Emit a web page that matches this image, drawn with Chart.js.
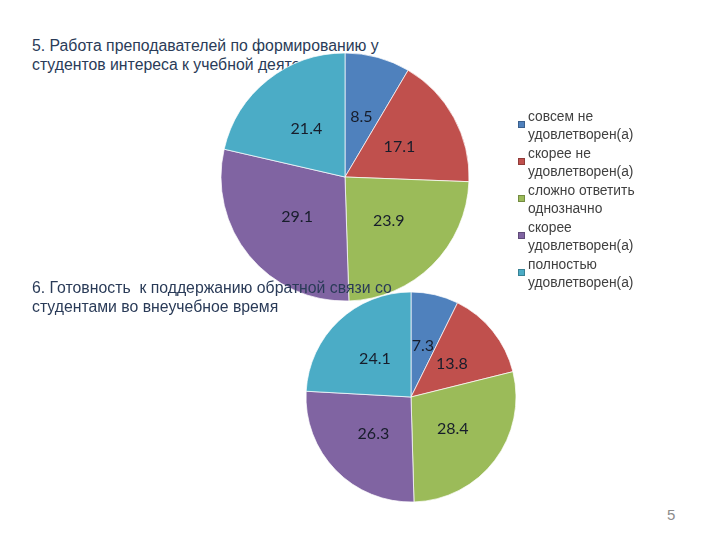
<!DOCTYPE html>
<html>
<head>
<meta charset="utf-8">
<script src="https://cdn.jsdelivr.net/npm/chart.js@4.4.0/dist/chart.umd.min.js"></script>
<style>
  html, body { margin: 0; padding: 0; background: #fff; }
  #page { position: relative; width: 720px; height: 540px; overflow: hidden; background: #fff; }
  .title { position: absolute; left: 32px; font-family: "Liberation Sans", Arial, sans-serif; font-size: 15.8px; line-height: 19px; color: #2a3b58; white-space: nowrap; }
  #t1 { top: 36px; z-index: 1; }
  #t2 { top: 278px; z-index: 3; }
  #c1 { position: absolute; left: 215px; top: 47px; z-index: 2; }
  #c2 { position: absolute; left: 301px; top: 287px; z-index: 4; }
  #legend { position: absolute; left: 518px; top: 108px; z-index: 5; font-family: "Liberation Sans", Arial, sans-serif; font-size: 13.8px; line-height: 18px; color: #404040; }
  .item { position: relative; height: 37px; padding-left: 10px; }
  .sw { position: absolute; left: 0; top: 13px; width: 7px; height: 7px; box-sizing: border-box; border: 1px solid rgba(0,0,0,0.25); }
  #pnum { position: absolute; left: 667px; top: 506px; font-family: "Liberation Sans", Arial, sans-serif; font-size: 15px; color: #8c8c8c; }
</style>
</head>
<body>
<div id="page">
  <div class="title" id="t1">5. Работа преподавателей по формированию у<br>студентов интереса к учебной деятельности</div>
  <canvas id="c1" width="260" height="260"></canvas>
  <div class="title" id="t2">6. Готовность&nbsp; к поддержанию обратной связи со<br>студентами во внеучебное время</div>
  <canvas id="c2" width="220" height="220"></canvas>
  <div id="legend"></div>
  <div id="pnum">5</div>
</div>
<script>
const categories = [
  ["совсем не", "удовлетворен(а)"],
  ["скорее не", "удовлетворен(а)"],
  ["сложно ответить", "однозначно"],
  ["скорее", "удовлетворен(а)"],
  ["полностью", "удовлетворен(а)"]
];
const values1 = [8.5, 17.1, 23.9, 29.1, 21.4];
const values2 = [7.3, 13.8, 28.4, 26.3, 24.1];
const colors = ["#4F81BD", "#C0504D", "#9BBB59", "#8064A2", "#4BACC6"];

const valueLabels = {
  id: "valueLabels",
  afterDatasetsDraw(chart) {
    const ctx = chart.ctx;
    const meta = chart.getDatasetMeta(0);
    const data = chart.data.datasets[0].data;
    ctx.save();
    ctx.font = '16px Lato, "Open Sans", sans-serif';
    ctx.fillStyle = "#171d2b";
    ctx.textAlign = "center";
    ctx.textBaseline = "middle";
    meta.data.forEach((arc, i) => {
      const p = arc.tooltipPosition();
      ctx.fillText(String(data[i]), p.x, p.y);
    });
    ctx.restore();
  }
};

function makePie(id, values, radius) {
  return new Chart(document.getElementById(id), {
    type: "pie",
    data: {
      labels: categories.map(c => c.join(" ")),
      datasets: [{
        data: values,
        backgroundColor: colors,
        borderColor: "rgba(255,255,255,0.7)",
        borderWidth: 1,
        radius: radius
      }]
    },
    options: {
      responsive: false,
      animation: false,
      devicePixelRatio: 1,
      layout: { padding: 0 },
      plugins: { legend: { display: false }, tooltip: { enabled: false }, title: { display: false } }
    },
    plugins: [valueLabels]
  });
}

makePie("c1", values1, 124);
makePie("c2", values2, 105);

const legend = document.getElementById("legend");
categories.forEach((lines, i) => {
  const item = document.createElement("div");
  item.className = "item";
  const sw = document.createElement("div");
  sw.className = "sw";
  sw.style.background = colors[i];
  item.appendChild(sw);
  const txt = document.createElement("div");
  txt.innerHTML = lines.join("<br>");
  item.appendChild(txt);
  legend.appendChild(item);
});
</script>
</body>
</html>
